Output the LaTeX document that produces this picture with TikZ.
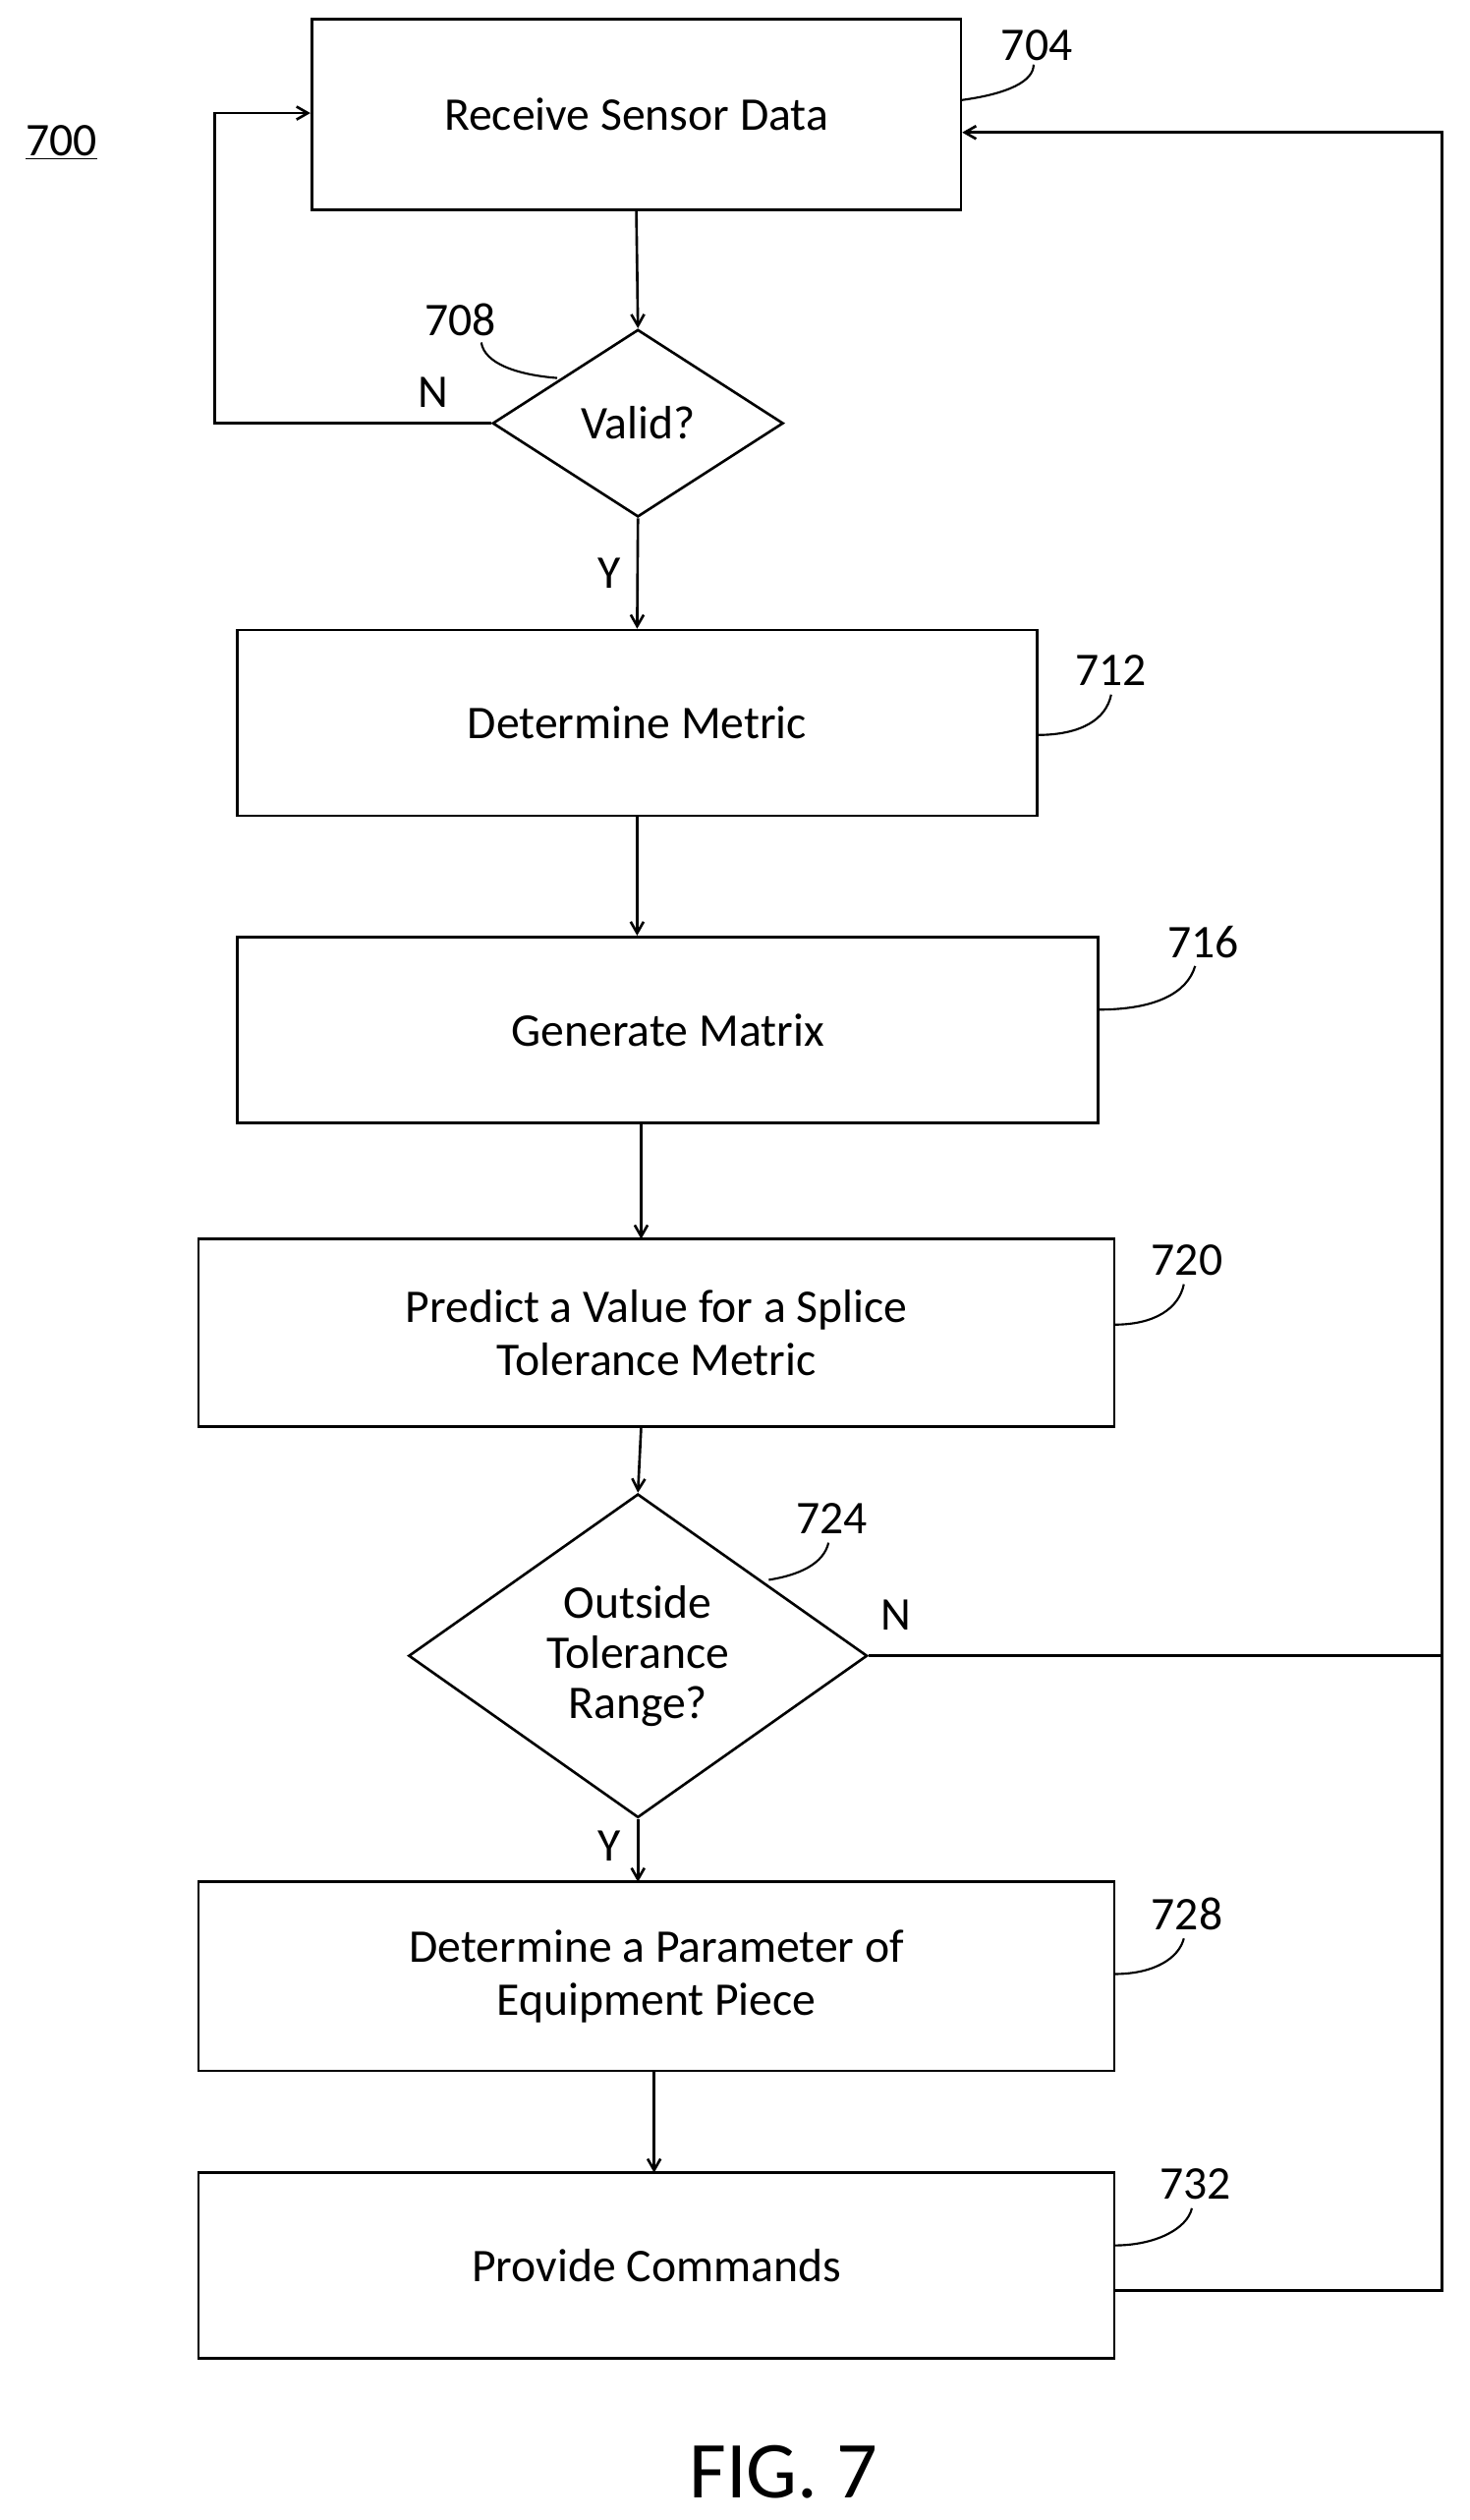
\documentclass[tikz,border=0pt]{standalone}
\usepackage{fontspec}
\setmainfont{Carlito}
\usetikzlibrary{shapes.geometric,arrows.meta}
\begin{document}
\begin{tikzpicture}[x=1pt,y=-1pt,
  box/.style={draw,line width=1.6pt,inner sep=0pt,align=center,font=\fontsize{29}{33}\selectfont},
  dia/.style={draw,diamond,line width=1.6pt,inner sep=0pt,align=center,font=\fontsize{29}{31}\selectfont},
  lbl/.style={font=\fontsize{29}{33}\selectfont,inner sep=1pt},
  ar/.style={line width=1.6pt,-{Straight Barb[length=7pt,width=8pt]}},
  ln/.style={line width=1.6pt},
  ld/.style={line width=1.3pt}]
\useasboundingbox (0,0) rectangle (910,1560);
\node[box,minimum width=402pt,minimum height=118pt] (b704) at (394,71) {Receive Sensor Data};
\node[dia,minimum width=180pt,minimum height=116pt] (d708) at (395,262) {Valid?};
\node[box,minimum width=495pt,minimum height=115pt] (b712) at (394.5,447.5) {Determine Metric};
\node[box,minimum width=533pt,minimum height=115pt] (b716) at (413.5,637.5) {Generate Matrix};
\node[box,minimum width=567pt,minimum height=116pt] (b720) at (406.5,825) {Predict a Value for a Splice\\Tolerance Metric};
\node[dia,minimum width=284pt,minimum height=186pt] (d724) at (395,1025) {Outside\\Tolerance\\Range?};
\node[box,minimum width=567pt,minimum height=117pt] (b728) at (406.5,1223.5) {Determine a Parameter of\\Equipment Piece};
\node[box,minimum width=567pt,minimum height=115pt] (b732) at (406.5,1402.5) {Provide Commands};

\node[lbl] (l700) at (38,88) {\underline{700}};
\node[lbl] (l704) at (642,28) {704};
\node[lbl] (l708) at (285,198) {708};
\node[lbl] (l712) at (688,415) {712};
\node[lbl] (l716) at (745,583) {716};
\node[lbl] (l720) at (735,780) {720};
\node[lbl] (l724) at (515,940) {724};
\node[lbl] (l728) at (735,1185) {728};
\node[lbl] (l732) at (740,1352) {732};
\node[lbl] (n1) at (268,243) {N};
\node[lbl] (y1) at (377,355) {Y};
\node[lbl] (n2) at (555,1000) {N};
\node[lbl] (y2) at (377,1143) {Y};
\node[font=\fontsize{50}{60}\selectfont] (fig) at (485,1530) {FIG. 7};

\draw[ar] (b704.south) -- (d708.north);
\draw[ar] (d708.south) -- (b712.north);
\draw[ar] (b712.south) -- (b712.south|-b716.north);
\draw[ar] (397,695) -- (397,767);
\draw[ar] (397,883) -- (d724.north);
\draw[ar] (d724.south) -- (395,1165);
\draw[ar] (405,1282) -- (405,1345);
\coordinate (lc1) at (133,262);
\coordinate (lc2) at (133,70);
\draw[ar] (d708.west) -- (lc1) -- (lc2) -- (b704.west|-lc2);
\coordinate (rc1) at (893,1418);
\coordinate (rc2) at (893,82);
\draw[ar] (b732.east|-rc1) -- (rc1) -- (rc2) -- (b704.east|-rc2);
\draw[ln] (d724.east) -- (893,1025);

\draw[ld] (595,62) .. controls (625,58) and (640,50) .. (640,40);
\draw[ld] (345,234) .. controls (320,232) and (300,225) .. (298,212);
\draw[ld] (642,455) .. controls (670,455) and (685,445) .. (688,430);
\draw[ld] (680,625) .. controls (715,625) and (735,615) .. (740,598);
\draw[ld] (690,820) .. controls (715,820) and (730,810) .. (733,795);
\draw[ld] (476,978) .. controls (495,975) and (510,968) .. (513,955);
\draw[ld] (690,1222) .. controls (715,1222) and (730,1212) .. (733,1200);
\draw[ld] (690,1390) .. controls (715,1390) and (735,1380) .. (738,1367);
\end{tikzpicture}
\end{document}
